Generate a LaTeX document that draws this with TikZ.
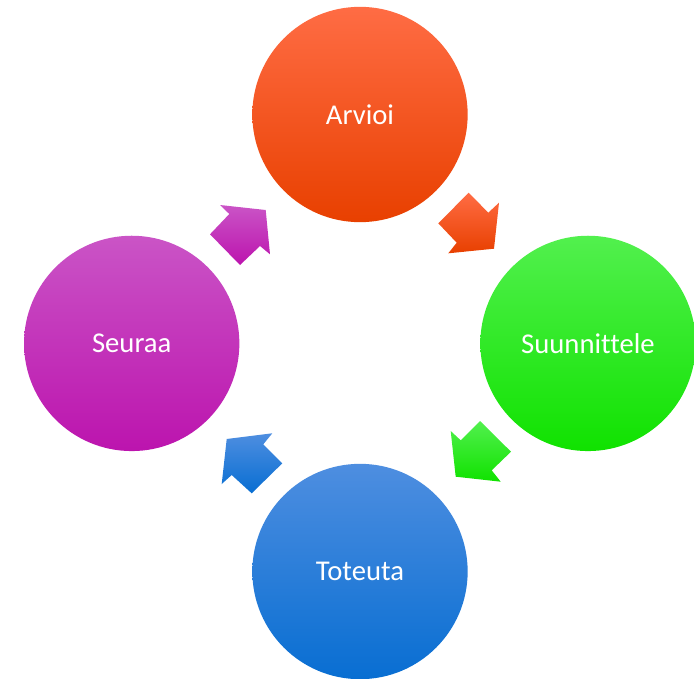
\documentclass[tikz,border=0pt]{standalone}
\usepackage{fontspec}
\setmainfont{Carlito}[Ligatures={NoCommon}]

\definecolor{arvioiTop}{RGB}{255,108,68}
\definecolor{arvioiMid}{RGB}{255,74,0}
\definecolor{arvioiBot}{RGB}{232,64,0}
\definecolor{suunTop}{RGB}{82,240,78}
\definecolor{suunMid}{RGB}{34,234,24}
\definecolor{suunBot}{RGB}{16,226,0}
\definecolor{toteTop}{RGB}{78,142,224}
\definecolor{toteMid}{RGB}{26,126,222}
\definecolor{toteBot}{RGB}{8,110,210}
\definecolor{seurTop}{RGB}{202,84,198}
\definecolor{seurMid}{RGB}{200,36,190}
\definecolor{seurBot}{RGB}{188,20,174}

\tikzset{
  phase/.style={circle, minimum size=161.5pt, inner sep=0pt, text=white,
    font=\fontsize{21.5}{26}\selectfont},
  arvioiShade/.style={top color=arvioiTop, middle color=arvioiMid, bottom color=arvioiBot},
  suunShade/.style={top color=suunTop, middle color=suunMid, bottom color=suunBot},
  toteShade/.style={top color=toteTop, middle color=toteMid, bottom color=toteBot},
  seurShade/.style={top color=seurTop, middle color=seurMid, bottom color=seurBot},
}

\begin{document}
\begin{tikzpicture}[x=0.75pt,y=0.75pt,yscale=-1,xscale=1]
\useasboundingbox (0,0) rectangle (694,679);

%Shape: Circle [Arvioi]
\node [phase, arvioiShade] (arvioi) at (360,114.5) {Arvioi};
%Shape: Circle [Suunnittele]
\node [phase, suunShade] (suunnittele) at (588,343.4) {Suunnittele};
%Shape: Circle [Toteuta]
\node [phase, toteShade] (toteuta) at (360,571.5) {Toteuta};
%Shape: Circle [Seuraa]
\node [phase, seurShade] (seuraa) at (131.7,343.4) {Seuraa};

%Shape: Block Arrow [Arvioi -> Suunnittele]
\path [arvioiShade] (468.7,192.7) -- (438.3,223.3) -- (456.7,242.7) -- (448.3,253.3) -- (494,248.7) -- (499,202.7) -- (488.3,212.7) -- cycle ;
%Shape: Block Arrow [Suunnittele -> Toteuta]
\path [suunShade] (480,421) -- (511,451.7) -- (491.7,470.3) -- (500.7,481.7) -- (455.7,476.7) -- (450.7,431) -- (460.7,440.3) -- cycle ;
%Shape: Block Arrow [Toteuta -> Seuraa]
\path [toteShade] (251.7,493.3) -- (282.3,463.3) -- (263.3,444.3) -- (272.3,433.3) -- (226.7,439) -- (221.7,484) -- (231.7,475) -- cycle ;
%Shape: Block Arrow [Seuraa -> Arvioi]
\path [seurShade] (210,234.3) -- (240,265) -- (260,246) -- (270,254.3) -- (265.7,210) -- (220,205) -- (229.3,214) -- cycle ;

\end{tikzpicture}
\end{document}
